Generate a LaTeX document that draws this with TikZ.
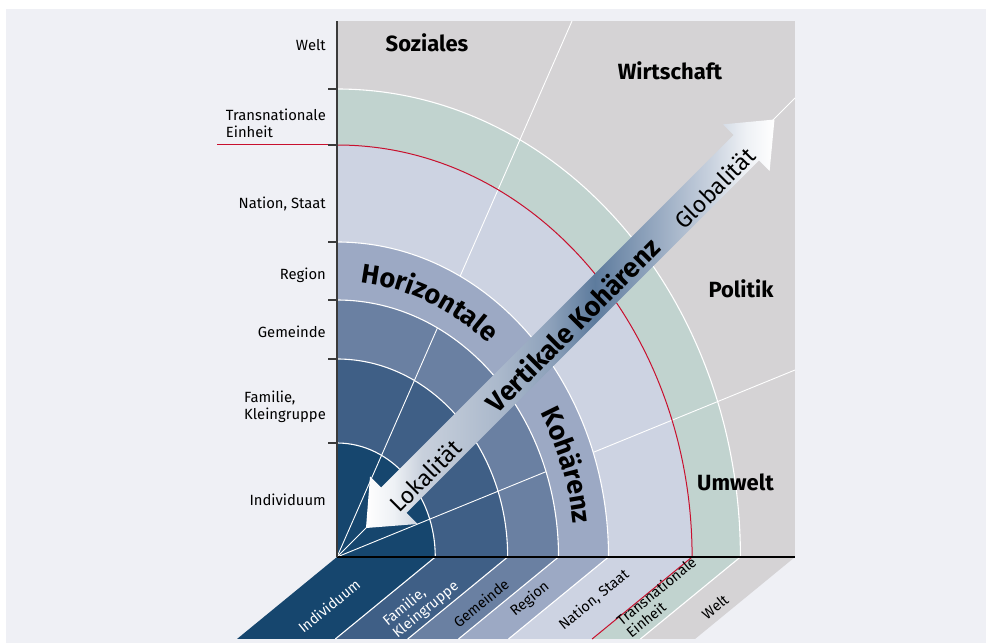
\documentclass[tikz,border=0pt]{standalone}
\usepackage{fontspec}
\setmainfont{Fira Sans}
\usetikzlibrary{decorations.text}
\definecolor{bgc}{HTML}{EFF0F5}
\definecolor{weltc}{HTML}{D5D3D5}
\definecolor{transc}{HTML}{C1D3CF}
\definecolor{nationc}{HTML}{CDD3E2}
\definecolor{regionc}{HTML}{9CA9C4}
\definecolor{gemc}{HTML}{6A80A2}
\definecolor{famc}{HTML}{3F5F86}
\definecolor{indc}{HTML}{16466E}
\definecolor{redc}{HTML}{C8102E}
\definecolor{axisc}{HTML}{3A3A3A}
\definecolor{arA}{HTML}{EEF1F5}
\definecolor{arB}{HTML}{C8D0DC}
\definecolor{arC}{HTML}{AAB8CB}
\definecolor{arD}{HTML}{8EA2BB}
\definecolor{arE}{HTML}{5D7B9D}
\definecolor{arF}{HTML}{8FA3BC}
\definecolor{arG}{HTML}{C8D1DE}
\pgfdeclarehorizontalshading{arrowshade}{100bp}{color(0bp)=(white); color(25bp)=(white); color(28.4bp)=(arA); color(31.8bp)=(arB); color(41.4bp)=(arC); color(47.4bp)=(arD); color(53bp)=(arE); color(59.5bp)=(arF); color(67.1bp)=(arG); color(71.5bp)=(arA); color(75bp)=(white); color(100bp)=(white)}
\begin{document}
\begin{tikzpicture}[x=1pt,y=1pt,
  lab/.style={font=\fontsize{14.8}{16}\selectfont, inner sep=0pt, text=black},
  sect/.style={font=\fontsize{22}{24}\selectfont\bfseries, inner sep=0pt, anchor=base},
  flab/.style={font=\fontsize{14.5}{15.5}\selectfont, inner sep=0pt, rotate=39.35, align=left},
  sep/.style={white, line width=1.1pt},
  redl/.style={redc, line width=1pt},
  ray/.style={white, line width=0.9pt},
  arrtxt/.style={font=\fontsize{23}{24}\selectfont, inner sep=0pt, rotate=45}]

\useasboundingbox (0,0) rectangle (986,643);
\fill[white] (0,0) rectangle (986,643);
\fill[bgc] (6,0) rectangle (986,634);
\fill[weltc] (337,86) rectangle (795,622);
\coordinate (O) at (337,86);

% rings
\foreach \ry/\col in {468/transc, 412/nationc, 315/regionc, 257/gemc, 198/famc, 114/indc} {
  \fill[\col] (O) -- ++(0.862*\ry,0) arc[start angle=0, end angle=90, x radius=0.862*\ry, y radius=\ry] -- cycle;
}

% radial lines
\coordinate (r1) at (572,622);
\coordinate (r2) at (795,545);
\coordinate (r3) at (795,273);
\draw[ray] (O) -- (r1);
\draw[ray] (O) -- (r2);
\draw[ray] (O) -- (r3);

% region band refill (lines interrupted there)
\fill[regionc, even odd rule] (O) -- ++(271.5,0) arc[start angle=0, end angle=90, x radius=271.5, y radius=315] -- cycle
  (O) -- ++(221.5,0) arc[start angle=0, end angle=90, x radius=221.5, y radius=257] -- cycle;

% ring boundaries
\foreach \ry in {468,315,257,198,114} {
  \draw[sep] (O) ++(0.862*\ry,0) arc[start angle=0, end angle=90, x radius=0.862*\ry, y radius=\ry];
}
\draw[redl] (O) ++(355.1,0) arc[start angle=0, end angle=90, x radius=355.1, y radius=412];
\draw[redl] (217,498) -- (337,498);

% floor
\foreach \a/\b/\col in {337/435.3/indc, 435.3/507.7/famc, 507.7/558.5/gemc, 558.5/608.5/regionc, 608.5/692.1/nationc, 692.1/740.4/transc, 740.4/795/weltc} {
  \fill[\col] (\a,86) -- (\b,86) -- (\b-100,4) -- (\a-100,4) -- cycle;
}
\foreach \a in {435.3,507.7,558.5,608.5,740.4} {
  \draw[sep] (\a,86) -- (\a-100,4);
}
\draw[redl] (692.1,86) -- (592.1,4);

% axes
\draw[black, line width=1.3pt] (337,86) -- (795,86);
\draw[axisc, line width=1.3pt] (337,86) -- (337,622);
\foreach \y in {554,498,401,343,284,200} {
  \draw[axisc, line width=1.1pt] (328,\y) -- (337,\y);
}

% left labels
\node[lab, anchor=base east] (lwelt) at (326,592) {Welt};
\node[lab, anchor=base east] (ltrans) at (326,522) {\begin{tabular}[t]{@{}l@{}}Transnationale\\Einheit\end{tabular}};
\node[lab, anchor=base east] (lnation) at (326,434) {Nation, Staat};
\node[lab, anchor=base east] (lregion) at (326,363) {Region};
\node[lab, anchor=base east] (lgem) at (326,305) {Gemeinde};
\node[lab, anchor=base east] (lfam) at (326,240) {\begin{tabular}[t]{@{}l@{}}Familie,\\Kleingruppe\end{tabular}};
\node[lab, anchor=base east] (lind) at (326,137) {Individuum};

% sector labels
\node[sect] (soz) at (427,591) {Soziales};
\node[sect] (wirt) at (670,563) {Wirtschaft};
\node[sect] (pol) at (741,345) {Politik};
\node[sect] (umw) at (735.5,152) {Umwelt};

% floor labels
\node[flab, text=white] (find) at (329,37) {Individuum};
\node[flab, text=white] (ffam) at (421,39) {Familie,\\Kleingruppe};
\node[flab] (fgem) at (481,40) {Gemeinde};
\node[flab] (freg) at (530,44) {Region};
\node[flab] (fnat) at (594,43) {Nation, Staat};
\node[flab] (ftrans) at (661,46) {Transnationale\\Einheit};
\node[flab] (fwelt) at (715,36) {Welt};

% horizontal coherence text
\path[decorate, decoration={text along path, text align=center, text={|\fontsize{27}{27}\selectfont\bfseries|Horizontale}}]
  (357.74,360.95) arc[start angle=85, end angle=50, x radius=238, y radius=276];
\path[decorate, decoration={text along path, text align=left, text={|\fontsize{27}{27}\selectfont\bfseries|Kohärenz}}]
  (539.9,230.2) arc[start angle=31.5, end angle=0, x radius=238, y radius=276];

% vertical coherence arrow
\begin{scope}[shift={(O)}, rotate=45]
  \shade[shading=arrowshade] (41,0) -- (80.3,33.6) -- (80.3,18) -- (578.8,18) -- (578.8,33) -- (618.7,0) -- (578.8,-33) -- (578.8,-18) -- (80.3,-18) -- (80.3,-33.6) -- cycle;
  \node[arrtxt, font=\fontsize{27}{28}\selectfont\bfseries] (vk) at (331,-2) {Vertikale Kohärenz};
  \node[arrtxt] (lok) at (120,-5) {Lokalität};
  \node[arrtxt] (glob) at (528,-6) {Globalität};
\end{scope}
\end{tikzpicture}
\end{document}
